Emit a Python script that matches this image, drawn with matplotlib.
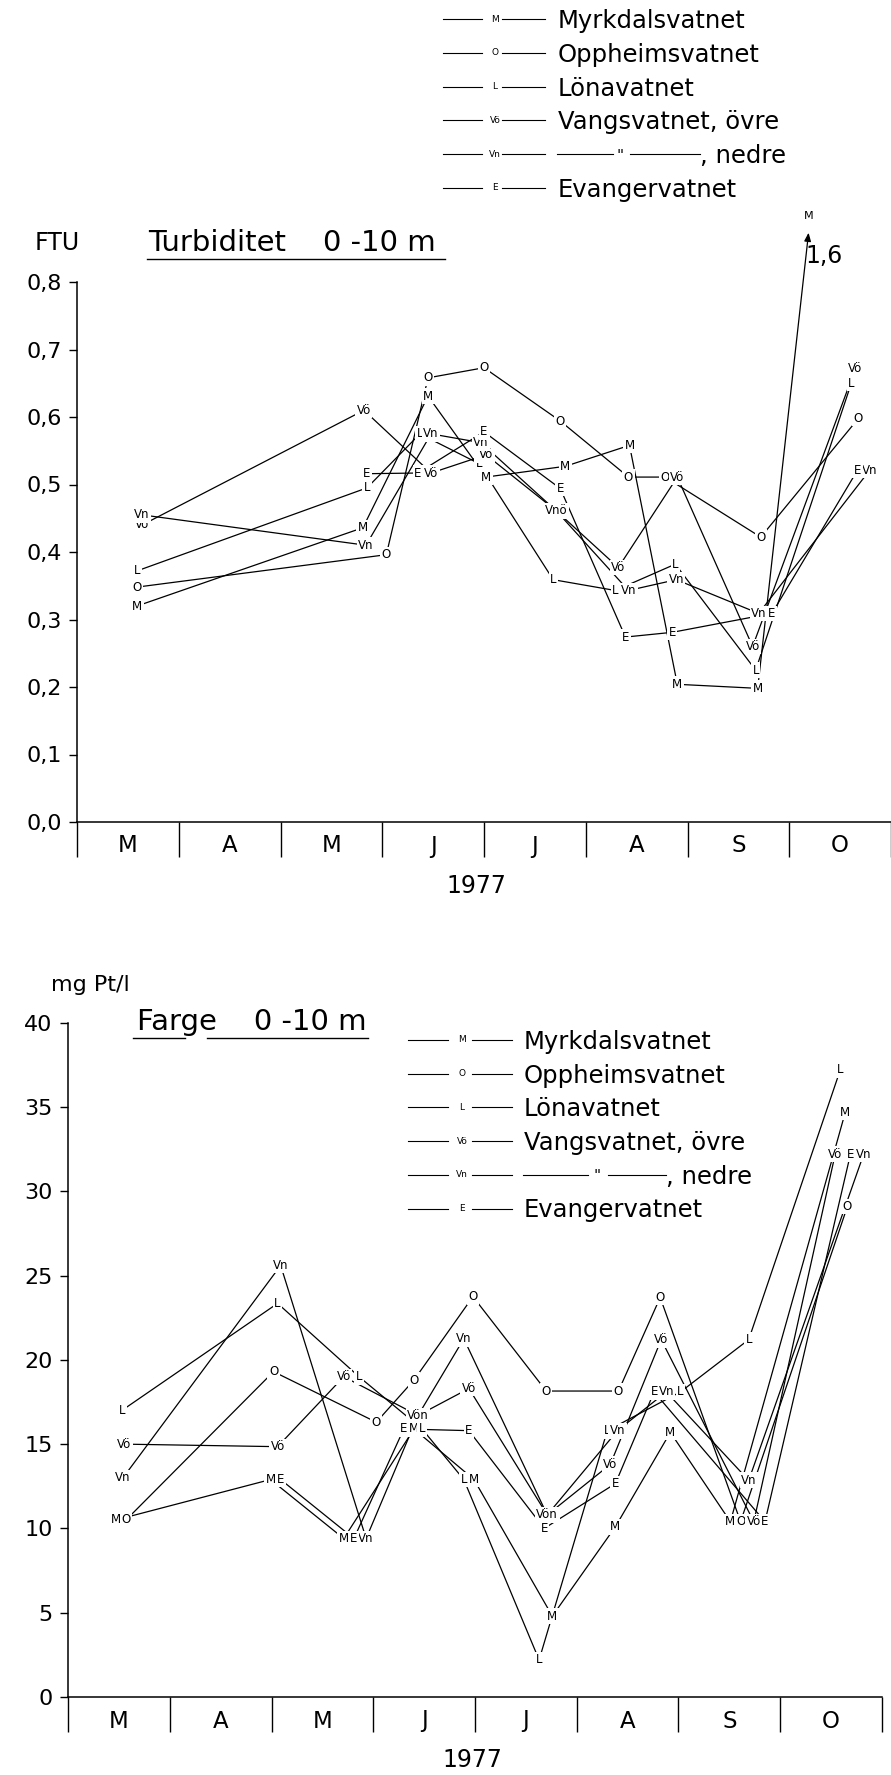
import matplotlib.pyplot as plt
from matplotlib.lines import Line2D
from matplotlib.ticker import FixedLocator

plt.rcParams['font.family'] = ['DejaVu Sans']

W, H = 891, 1775

months = ['M', 'A', 'M', 'J', 'J', 'A', 'S', 'O']
codes = ['M', 'O', 'L', 'Vö', 'Vn', 'E']
names = ['Myrkdalsvatnet', 'Oppheimsvatnet', 'Lönavatnet',
         'Vangsvatnet, övre', ', nedre', 'Evangervatnet']

# Turbiditet 0-10 m (FTU), x = months after 1 March 1977
tM_x = [0.59, 2.81, 3.45, 4.02, 4.80, 5.43, 5.90, 6.69, 7.19]
tM_y = [0.32, 0.436, 0.631, 0.511, 0.527, 0.558, 0.204, 0.198, 1.6]
tO_x = [0.59, 3.04, 3.45, 4.00, 4.75, 5.42, 5.78, 6.72, 7.68]
tO_y = [0.348, 0.396, 0.658, 0.673, 0.594, 0.511, 0.511, 0.422, 0.598]
tL_x = [0.59, 2.85, 3.37, 3.95, 4.68, 5.29, 5.88, 6.67, 7.61]
tL_y = [0.372, 0.495, 0.575, 0.531, 0.359, 0.343, 0.382, 0.225, 0.65]
tVo_x = [0.64, 2.82, 3.48, 4.02, 4.71, 5.32, 5.90, 6.64, 7.65]
tVo_y = [0.44, 0.61, 0.517, 0.544, 0.461, 0.377, 0.511, 0.26, 0.672]
tVo_lab = ['Vö', 'Vö', 'Vö', 'Vö', '', 'Vö', 'Vö', 'Vö', 'Vö']
tVn_x = [0.64, 2.84, 3.48, 3.97, 4.71, 5.42, 5.89, 6.70, 7.79]
tVn_y = [0.455, 0.41, 0.575, 0.562, 0.461, 0.343, 0.359, 0.309, 0.521]
tVn_lab = ['Vn', 'Vn', 'Vn', 'Vn', 'Vnö', 'Vn', 'Vn', 'Vn', 'Vn']
tE_x = [2.85, 3.35, 4.00, 4.75, 5.39, 5.85, 6.83, 7.67]
tE_y = [0.516, 0.517, 0.578, 0.494, 0.274, 0.281, 0.309, 0.521]

# Farge 0-10 m (mg Pt/l)
fM_x = [0.47, 1.99, 2.71, 3.40, 3.99, 4.76, 5.38, 5.92, 6.51, 7.64]
fM_y = [10.5, 12.9, 9.4, 15.9, 12.9, 4.8, 10.1, 15.7, 10.4, 34.7]
fO_x = [0.57, 2.02, 3.03, 3.40, 3.98, 4.70, 5.41, 5.82, 6.61, 7.66]
fO_y = [10.5, 19.3, 16.3, 18.8, 23.75, 18.15, 18.15, 23.7, 10.4, 29.1]
fL_x = [0.53, 2.06, 2.86, 3.48, 3.89, 4.63, 5.30, 6.02, 6.69, 7.59]
fL_y = [17.0, 23.35, 19.0, 15.9, 12.9, 2.2, 15.8, 18.1, 21.2, 37.2]
fVo_x = [0.55, 2.06, 2.71, 3.44, 3.94, 4.71, 5.33, 5.83, 6.74, 7.54]
fVo_y = [15.0, 14.85, 19.0, 16.7, 18.3, 10.8, 13.8, 21.2, 10.4, 32.2]
fVo_lab = ['Vö', 'Vö', 'Vö', 'Vön', 'Vö', 'Vön', 'Vö', 'Vö', 'Vö', 'Vö']
fVn_x = [0.54, 2.09, 2.93, 3.44, 3.89, 4.71, 5.40, 5.88, 6.69, 7.82]
fVn_y = [13.0, 25.6, 9.4, 16.7, 21.25, 10.8, 15.8, 18.1, 12.85, 32.2]
fVn_lab = ['Vn', 'Vn', 'Vn', '', 'Vn', '', 'Vn', 'Vn', 'Vn', 'Vn']
fE_x = [2.09, 2.81, 3.30, 3.94, 4.68, 5.38, 5.76, 6.85, 7.69]
fE_y = [12.9, 9.4, 15.9, 15.8, 10.0, 12.66, 18.1, 10.4, 32.2]


def fx(px):
    return px / W


def fy(py):
    return 1 - py / H


def fmt_comma(v, nd=1):
    return f'{v:.{nd}f}'.replace('.', ',')


def point_labels(ax, x, y, labels):
    for xi, yi, lab in zip(x, y, labels):
        if lab:
            ax.text(xi, yi, lab, ha='center', va='center', fontsize=8.5, zorder=4,
                    bbox=dict(boxstyle='square,pad=0.12', fc='white', ec='none'))


def series(ax, x, y, labels):
    ax.plot(x, y, color='black', lw=0.9, zorder=2, clip_on=False)
    point_labels(ax, x, y, labels)


def style_axes(ax, ylim, yticks, ylabels, spine_top):
    ax.set_xlim(0, 8)
    ax.set_ylim(*ylim)
    for s in ['top', 'right']:
        ax.spines[s].set_visible(False)
    ax.spines['left'].set_bounds(0, spine_top)
    for s in ['left', 'bottom']:
        ax.spines[s].set_linewidth(1.1)
    ax.yaxis.set_major_locator(FixedLocator(yticks))
    ax.set_yticklabels(ylabels)
    ax.tick_params(axis='y', direction='out', length=6, width=1.0, pad=5, labelsize=16)
    ax.xaxis.set_major_locator(FixedLocator(range(9)))
    ax.xaxis.set_minor_locator(FixedLocator([i + 0.5 for i in range(8)]))
    ax.set_xticklabels([], minor=False)
    ax.set_xticklabels(months, minor=True)
    ax.tick_params(axis='x', which='major', direction='out', length=25, width=1.0)
    ax.tick_params(axis='x', which='minor', length=0, pad=9, labelsize=16.5)
    ax.patch.set_alpha(0)


def legend_rows(fig, y0, dy, seg1, cx, seg2, xt, ditto):
    for i, (code, name) in enumerate(zip(codes, names)):
        py = y0 + i * dy
        for a, b in (seg1, seg2):
            fig.add_artist(Line2D([fx(a), fx(b)], [fy(py)] * 2, lw=0.8, color='black'))
        fig.text(fx(cx), fy(py), code, fontsize=6.5, ha='center', va='center')
        if name.startswith(','):
            l1, dx_, l2 = ditto
            fig.add_artist(Line2D([fx(l1[0]), fx(l1[1])], [fy(py)] * 2, lw=0.8, color='black'))
            fig.text(fx(dx_), fy(py + 2), '"', fontsize=11, ha='center', va='center')
            fig.add_artist(Line2D([fx(l2[0]), fx(l2[1])], [fy(py)] * 2, lw=0.8, color='black'))
            fig.text(fx(l2[1]), fy(py + 9), name, fontsize=17.5, va='baseline')
        else:
            fig.text(fx(xt), fy(py + 9), name, fontsize=17.5, va='baseline')


fig = plt.figure(figsize=(W / 100, H / 100), dpi=100)

# ---- Turbiditet ----
ax1 = fig.add_axes([fx(77), fy(822), (891 - 77) / W, 0.9 * 675 / H])
tticks = [i / 10 for i in range(9)]
style_axes(ax1, (0, 0.9), tticks, [fmt_comma(v) for v in tticks], 0.8)

y_cap = 0.873  # off-scale values are drawn as an arrow ending here
ax1.plot(tM_x[:-1], tM_y[:-1], color='black', lw=0.9, zorder=2)
ax1.annotate('', xy=(tM_x[-1], y_cap), xytext=(tM_x[-2], tM_y[-2]),
             arrowprops=dict(arrowstyle='-|>,head_length=0.5,head_width=0.2',
                             lw=0.9, color='black', shrinkA=0, shrinkB=0), zorder=2)
point_labels(ax1, tM_x[:-1], tM_y[:-1], ['M'] * (len(tM_x) - 1))
ax1.text(tM_x[-1], y_cap + 0.018, 'M', ha='center', va='bottom', fontsize=8)
ax1.text(tM_x[-1] + 0.15, y_cap - 0.035, fmt_comma(tM_y[-1]), ha='center',
         va='center', fontsize=17)

series(ax1, tO_x, tO_y, ['O'] * len(tO_x))
series(ax1, tL_x, tL_y, ['L'] * len(tL_x))
series(ax1, tVo_x, tVo_y, tVo_lab)
series(ax1, tVn_x, tVn_y, tVn_lab)
series(ax1, tE_x, tE_y, ['E'] * len(tE_x))

fig.text(fx(148), fy(243), 'Turbiditet    0 -10 m', fontsize=21, va='center')
fig.add_artist(Line2D([fx(147), fx(445)], [fy(259)] * 2, lw=1.0, color='black'))
fig.text(fx(57), fy(243), 'FTU', fontsize=17, ha='center', va='center')
fig.text(fx(476), fy(886), '1977', fontsize=17, ha='center', va='center')

legend_rows(fig, 19, 33.8, (443, 482), 495, (502, 545), 558,
            ((557, 613), 620, (630, 700)))

# ---- Farge ----
ax2 = fig.add_axes([fx(68), fy(1697), (882 - 68) / W, (1697 - 1022.7) / H])
fticks = list(range(0, 41, 5))
style_axes(ax2, (0, 40), fticks, [str(v) for v in fticks], 40)

series(ax2, fM_x, fM_y, ['M'] * len(fM_x))
series(ax2, fO_x, fO_y, ['O'] * len(fO_x))
series(ax2, fL_x, fL_y, ['L'] * len(fL_x))
series(ax2, fVo_x, fVo_y, fVo_lab)
series(ax2, fVn_x, fVn_y, fVn_lab)
series(ax2, fE_x, fE_y, ['E'] * len(fE_x))

fig.text(fx(137), fy(1022), 'Farge    0 -10 m', fontsize=21, va='center')
fig.add_artist(Line2D([fx(133), fx(185)], [fy(1038)] * 2, lw=1.0, color='black'))
fig.add_artist(Line2D([fx(207), fx(368)], [fy(1038)] * 2, lw=1.0, color='black'))
fig.text(fx(90), fy(985), 'mg Pt/l', fontsize=16, ha='center', va='center')
fig.text(fx(472), fy(1760), '1977', fontsize=17, ha='center', va='center')

legend_rows(fig, 1040, 33.7, (408, 448), 462, (472, 512), 524,
            ((523, 588), 597, (608, 666)))

fig.savefig('out.png', dpi=100, facecolor='white')
